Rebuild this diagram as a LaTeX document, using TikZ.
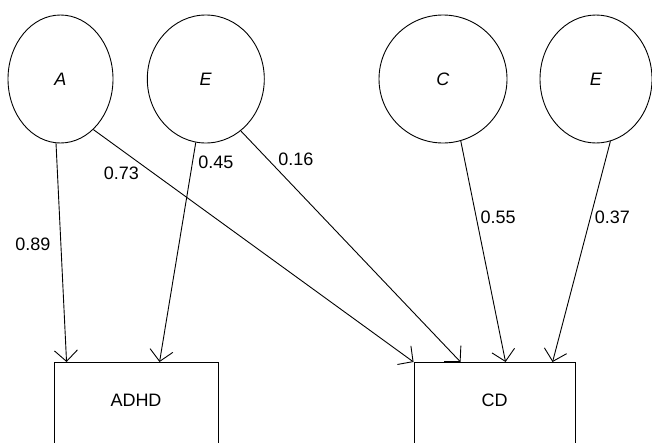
\documentclass[tikz,border=0pt]{standalone}
\usepackage{fontspec}
\setmainfont{Liberation Sans}
\usetikzlibrary{arrows.meta, shapes.geometric}

\begin{document}
\begin{tikzpicture}[x=1pt, y=-1pt, line width=0.9pt, font=\fontsize{18}{22}\selectfont,
		>={Straight Barb[length=11pt, width=23pt]},
		latent/.style={draw, ellipse, inner sep=0pt, minimum height=128pt},
		observed/.style={draw, rectangle, inner sep=0pt, anchor=north, text height=44.5pt, text depth=70pt},
		coef/.style={inner sep=2pt}]
		\useasboundingbox (0, 0) rectangle (652, 442);
		\clip (0, 0) rectangle (652, 442);

		\node[latent, minimum width=105pt]	(A) at (60.5, 79) {\textit{A}};
		\node[latent, minimum width=117pt]	(Eadhd) at (205.8, 79) {\textit{E}};
		\node[latent, minimum width=128pt]	(C) at (443, 79) {\textit{C}};
		\node[latent, minimum width=112pt]	(Ecd) at (596, 79) {\textit{E}};

		\node[observed, minimum width=164pt]	(adhd) at (136, 362) {ADHD};
		\node[observed, minimum width=161pt]	(cd) at (494.5, 362) {CD};

		\draw[->]	(A.-94.5) to node[coef, pos=0.46, anchor=east, xshift=-8pt]{0.89} ([xshift=13pt]adhd.north west);
		\draw[->]	(A.-57.6) to node[coef, pos=0.15, anchor=north east]{0.73} (cd.north west);
		\draw[->]	(Eadhd.-99.8) to node[coef, pos=0.05, anchor=north west, xshift=2pt]{0.45} ([xshift=106pt]adhd.north west);
		\draw[->]	(Eadhd.-56.6) to node[coef, pos=0.16, anchor=south west]{0.16} ([xshift=47pt]cd.north west);
		\draw[->]	(C.-74.9) to node[coef, pos=0.345, anchor=west, xshift=2pt]{0.55} ([xshift=92pt]cd.north west);
		\draw[->]	(Ecd.-77.5) to node[coef, pos=0.345, anchor=west, xshift=2pt]{0.37} ([xshift=139pt]cd.north west);
	\end{tikzpicture}
\end{document}
